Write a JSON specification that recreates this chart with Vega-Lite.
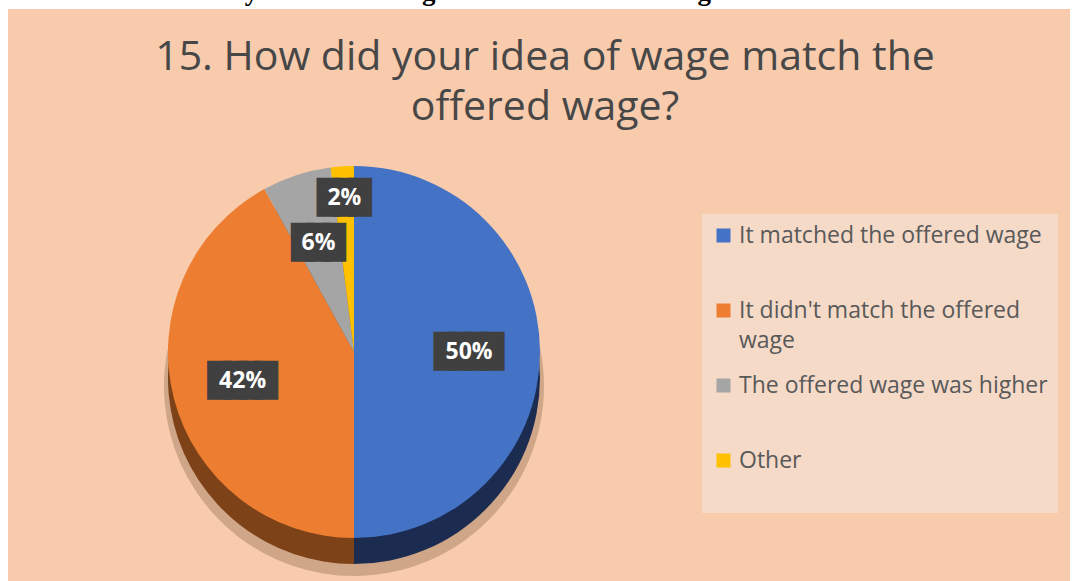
{
  "$schema": "https://vega.github.io/schema/vega-lite/v6.json",
  "background": "white",
  "padding": {"top": -22, "left": 0, "right": 5, "bottom": -113},
  "bounds": "flush",
  "spacing": 0,
  "resolve": {"scale": {"color": "independent"}},
  "title": {
    "text": ["15. How did your idea of wage match the", "offered wage?"],
    "anchor": "middle",
    "frame": "bounds",
    "orient": "top",
    "offset": -151,
    "dx": 10,
    "font": "Open Sans",
    "fontSize": 41,
    "fontWeight": "normal",
    "color": "#474747",
    "lineHeight": 50
  },
  "config": {
    "view": {"stroke": null},
    "style": {"guide-label": {"lineHeight": 30}}
  },
  "hconcat": [
    {
      "width": 692,
      "height": 686,
      "view": {"fill": "#F8CBAD", "stroke": null},
      "title": {
        "text": "Picture 15 - How did your idea of wage match the offered wage?",
        "anchor": "start",
        "frame": "group",
        "orient": "top",
        "offset": 3,
        "font": "Liberation Serif",
        "fontSize": 27,
        "fontWeight": "bold",
        "color": "#000000",
        "dx": -8
      },
      "data": {
        "values": [
          {"answer": "It matched the offered wage", "share": 0.50, "rank": 1},
          {"answer": "It didn't match the offered wage", "share": 0.42, "rank": 2},
          {"answer": "The offered wage was higher", "share": 0.06, "rank": 3},
          {"answer": "Other", "share": 0.02, "rank": 4}
        ]
      },
      "encoding": {
        "theta": {"field": "share", "type": "quantitative", "stack": true},
        "order": {"field": "rank", "type": "quantitative"}
      },
      "layer": [
        {
          "mark": {"type": "arc", "outerRadius": 190, "yOffset": 34, "color": "#a07a5e", "opacity": 0.45}
        },
        {
          "mark": {"type": "arc", "outerRadius": 186, "yOffset": 26},
          "encoding": {
            "fill": {
              "field": "answer",
              "type": "nominal",
              "scale": {
                "domain": ["It matched the offered wage", "It didn't match the offered wage", "The offered wage was higher", "Other"],
                "range": ["#1B2C50", "#7E4218", "#5A5A5A", "#8A6800"]
              },
              "legend": null
            }
          }
        },
        {
          "mark": {"type": "arc", "outerRadius": 186},
          "encoding": {
            "color": {
              "field": "answer",
              "type": "nominal",
              "scale": {
                "domain": ["It matched the offered wage", "It didn't match the offered wage", "The offered wage was higher", "Other"],
                "range": ["#4472C4", "#ED7D31", "#A5A5A5", "#FFC000"]
              },
              "legend": null
            }
          }
        },
        {
          "mark": {"type": "text", "radius": 115, "font": "DejaVu Sans Mono", "fontSize": 26, "fill": "#404040", "stroke": "#404040", "strokeWidth": 8, "strokeJoin": "miter", "strokeMiterLimit": 2, "align": "center", "baseline": "middle"},
          "encoding": {
            "text": {"condition": [{"test": "datum.share >= 0.1", "value": "████"}, {"test": "datum.share >= 0.05", "value": "███"}], "value": ""}
          }
        },
        {
          "mark": {"type": "text", "radius": 115, "font": "Open Sans", "fontSize": 23, "fontWeight": "bold", "fill": "#FFFFFF", "align": "center", "baseline": "middle"},
          "encoding": {
            "text": {"condition": {"test": "datum.share >= 0.05", "field": "share", "type": "quantitative", "format": ".0%"}, "value": ""}
          }
        },
        {
          "mark": {"type": "text", "radius": 154, "font": "DejaVu Sans Mono", "fontSize": 26, "fill": "#404040", "stroke": "#404040", "strokeWidth": 8, "strokeJoin": "miter", "strokeMiterLimit": 2, "align": "center", "baseline": "middle"},
          "encoding": {
            "text": {"condition": {"test": "datum.share < 0.05", "value": "███"}, "value": ""}
          }
        },
        {
          "mark": {"type": "text", "radius": 154, "font": "Open Sans", "fontSize": 23, "fontWeight": "bold", "fill": "#FFFFFF", "align": "center", "baseline": "middle"},
          "encoding": {
            "text": {"condition": {"test": "datum.share < 0.05", "field": "share", "type": "quantitative", "format": ".0%"}, "value": ""}
          }
        }
      ]
    },
    {
      "width": 370,
      "height": 686,
      "view": {"fill": "#F8CBAD", "stroke": null},
      "data": {
        "values": [
          {"answer": "It matched the offered wage", "share": 0.50, "rank": 1},
          {"answer": "It didn't match the offered wage", "share": 0.42, "rank": 2},
          {"answer": "The offered wage was higher", "share": 0.06, "rank": 3},
          {"answer": "Other", "share": 0.02, "rank": 4}
        ]
      },
      "mark": {"type": "text", "text": ""},
      "encoding": {
        "color": {
          "field": "answer",
          "type": "nominal",
          "scale": {
            "domain": ["It matched the offered wage", "It didn't match the offered wage", "The offered wage was higher", "Other"],
            "range": ["#4472C4", "#ED7D31", "#A5A5A5", "#FFC000"]
          },
          "legend": {
            "orient": "none",
            "legendX": 2,
            "legendY": 205,
            "title": null,
            "fillColor": "#F5DAC8",
            "padding": 10,
            "symbolType": "square",
            "symbolSize": 196,
            "symbolStrokeWidth": 0,
            "symbolOpacity": 1,
            "labelFont": "Open Sans",
            "labelFontSize": 23,
            "labelColor": "#595959",
            "labelLimit": 500,
            "labelOffset": 4,
            "rowPadding": 21,
            "labelExpr": "datum.label == \"It didn't match the offered wage\" ? [\"It didn't match the offered\", \"wage\"] : [datum.label, \"\"]"
          }
        }
      }
    }
  ]
}
